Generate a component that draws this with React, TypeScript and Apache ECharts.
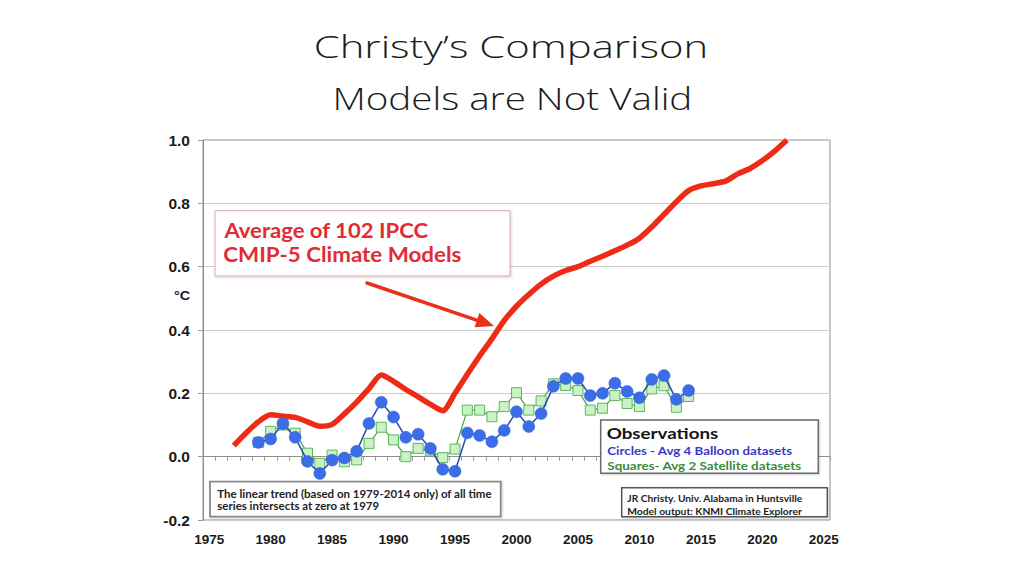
import React, { useEffect, useRef } from "react";
import * as echarts from "echarts";

// ---------- data ----------
const modelYears = [
  1977, 1978, 1979, 1980, 1981, 1982, 1983, 1984, 1985, 1986, 1987, 1988, 1989, 1990, 1991, 1992,
  1993, 1994, 1995, 1996, 1997, 1998, 1999, 2000, 2001, 2002, 2003, 2004, 2005, 2006, 2007, 2008,
  2009, 2010, 2011, 2012, 2013, 2014, 2015, 2016, 2017, 2018, 2019, 2020, 2021, 2022,
];
const modelValues = [
  0.035, 0.075, 0.11, 0.132, 0.128, 0.124, 0.11, 0.096, 0.102, 0.135, 0.172, 0.215, 0.258, 0.238,
  0.212, 0.189, 0.165, 0.145, 0.2, 0.26, 0.318, 0.372, 0.43, 0.475, 0.512, 0.545, 0.57, 0.588, 0.6,
  0.617, 0.633, 0.65, 0.668, 0.69, 0.725, 0.765, 0.805, 0.84, 0.855, 0.862, 0.87, 0.893, 0.91,
  0.935, 0.965, 1.0,
];
const obsYears = [
  1979, 1980, 1981, 1982, 1983, 1984, 1985, 1986, 1987, 1988, 1989, 1990, 1991, 1992, 1993, 1994,
  1995, 1996, 1997, 1998, 1999, 2000, 2001, 2002, 2003, 2004, 2005, 2006, 2007, 2008, 2009, 2010,
  2011, 2012, 2013, 2014,
];
const balloonValues = [
  0.045, 0.056, 0.104, 0.061, -0.015, -0.053, -0.011, -0.004, 0.017, 0.105, 0.172, 0.125, 0.061,
  0.071, 0.026, -0.04, -0.046, 0.075, 0.067, 0.047, 0.083, 0.142, 0.095, 0.136, 0.222, 0.247,
  0.247, 0.193, 0.2, 0.232, 0.206, 0.186, 0.244, 0.256, 0.181, 0.209,
];
const satelliteValues = [
  0.045, 0.08, 0.1, 0.074, 0.011, -0.021, 0.005, -0.016, -0.01, 0.042, 0.093, 0.053, 0.0, 0.026,
  0.018, -0.003, 0.024, 0.147, 0.147, 0.126, 0.158, 0.202, 0.147, 0.176, 0.23, 0.225, 0.209, 0.147,
  0.153, 0.193, 0.168, 0.158, 0.214, 0.224, 0.156, 0.19,
];
const xLabelYears = [1975, 1980, 1985, 1990, 1995, 2000, 2005, 2010, 2015, 2020, 2025];
const yUnit = "°C";

const titleLines = ["Christy’s Comparison", "Models are Not Valid"];
const modelNote = ["Average of 102 IPCC", "CMIP-5 Climate Models"];
const obsNote = [
  "Observations",
  "Circles - Avg 4 Balloon datasets",
  "Squares- Avg 2 Satellite datasets",
];
const trendNote = [
  "The linear trend (based on 1979-2014 only) of all time",
  "series intersects at zero at 1979",
];
const creditNote = ["JR Christy. Univ. Alabama in Huntsville", "Model output: KNMI Climate Explorer"];

// ---------- helpers ----------
let measureCtx: CanvasRenderingContext2D | null = null;
function ink(text: string, font: string) {
  if (!measureCtx) measureCtx = document.createElement("canvas").getContext("2d");
  const ctx = measureCtx as CanvasRenderingContext2D;
  ctx.font = font;
  const m = ctx.measureText(text);
  const left = typeof m.actualBoundingBoxLeft === "number" ? m.actualBoundingBoxLeft : 0;
  const right = typeof m.actualBoundingBoxRight === "number" ? m.actualBoundingBoxRight : m.width;
  return { left, right, width: left + right };
}

// fitted text: ink spans [x0, x1], cap centre at y
function fitText(
  text: string,
  x0: number,
  x1: number,
  y: number,
  size: number,
  weight: string,
  family: string,
  color: string
) {
  const font = `${weight} ${size}px ${family}`;
  const m = ink(text, font);
  const sx = m.width > 0 ? (x1 - x0) / m.width : 1;
  return {
    type: "text",
    x: x0 + m.left * sx,
    y,
    scaleX: sx,
    z: 110,
    silent: true,
    style: {
      text,
      font,
      fill: color,
      align: "left",
      verticalAlign: "middle",
      textAlign: "left",
      textVerticalAlign: "middle",
    },
  };
}

function box(x: number, y: number, w: number, h: number, stroke: string, lw: number) {
  return {
    type: "rect",
    z: 100,
    silent: true,
    shape: { x, y, width: w, height: h },
    style: {
      fill: "#ffffff",
      stroke,
      lineWidth: lw,
      shadowColor: "rgba(0,0,0,0.18)",
      shadowBlur: 2,
      shadowOffsetX: 1,
      shadowOffsetY: 1,
    },
  };
}

function buildOption() {
  const xTickValues: number[] = [];
  for (let v = 1974.5; v <= 2025.5; v += 1) xTickValues.push(v);

  const LATO = "Lato, 'Open Sans', sans-serif";
  const TITLE = "'Open Sans', Lato, sans-serif";
  const red = "#e42a33";

  // arrow geometry
  const ax0 = 367, ay0 = 283, tipX = 494, tipY = 326;
  const dx = tipX - ax0, dy = tipY - ay0;
  const len = Math.sqrt(dx * dx + dy * dy);
  const ux = dx / len, uy = dy / len;
  const nx = -uy, ny = ux;
  const headL = 18, headW = 7.5;
  const bx = tipX - headL * ux, by = tipY - headL * uy;

  const graphic: any[] = [
    // titles
    fitText(titleLines[0], 315, 706, 46, 32, "300", TITLE, "#1c1c1c"),
    fitText(titleLines[1], 336, 690, 97, 32, "300", TITLE, "#1c1c1c"),
    // y unit
    fitText(yUnit, 174, 191, 296, 13, "bold", "'Liberation Sans', Arial, sans-serif", "#1a1a1a"),
    // model annotation
    box(215, 210.7, 295, 65.3, "#dcaaaa", 1),
    fitText(modelNote[0], 223.3, 428.3, 229.5, 20, "bold", LATO, red),
    fitText(modelNote[1], 223.3, 461.7, 254, 20, "bold", LATO, red),
    {
      type: "line",
      z: 105,
      silent: true,
      shape: { x1: ax0, y1: ay0, x2: bx + 2 * ux, y2: by + 2 * uy },
      style: { stroke: "#e8301c", lineWidth: 3.5, lineCap: "round" },
    },
    {
      type: "polygon",
      z: 105,
      silent: true,
      shape: {
        points: [
          [tipX, tipY],
          [bx + headW * nx, by + headW * ny],
          [bx - headW * nx, by - headW * ny],
        ],
      },
      style: { fill: "#e8301c" },
    },
    // observations legend
    box(600.7, 420, 217.6, 53.3, "#6a6a6a", 1.5),
    fitText(obsNote[0], 606.7, 718.3, 433.3, 16, "bold", LATO, "#151515"),
    fitText(obsNote[1], 607.3, 792.7, 451, 11.5, "bold", LATO, "#3838c6"),
    fitText(obsNote[2], 607.3, 801.7, 466.3, 11.5, "bold", LATO, "#3b8b3b"),
    // trend note
    box(210, 481.7, 290.7, 35, "#8a8a8a", 1.8),
    fitText(trendNote[0], 217.3, 492.7, 494, 10.5, "bold", LATO, "#222222"),
    fitText(trendNote[1], 217.3, 379.3, 505.7, 10.5, "bold", LATO, "#222222"),
    // credit
    box(621.7, 487.7, 205.6, 29, "#555555", 1.5),
    fitText(creditNote[0], 627.3, 803.3, 497.7, 10, "bold", LATO, "#222222"),
    fitText(creditNote[1], 627.3, 802.3, 510.7, 10, "bold", LATO, "#222222"),
  ];

  return {
    animation: false,
    backgroundColor: "#ffffff",
    grid: {
      left: 203,
      top: 140,
      width: 627,
      height: 380,
      show: true,
      borderColor: "#8f8f8f",
      borderWidth: 1,
      backgroundColor: "transparent",
      containLabel: false,
    },
    xAxis: {
      type: "value",
      min: 1974.5,
      max: 2025.5,
      axisLine: { show: true, lineStyle: { color: "#8f8f8f", width: 1 } },
      axisTick: {
        show: true,
        length: 4,
        lineStyle: { color: "#9a9a9a" },
        customValues: xTickValues,
      },
      axisLabel: {
        customValues: xLabelYears,
        margin: 12,
        fontSize: 13.5,
        fontWeight: "bold",
        color: "#1a1a1a",
        fontFamily: "'Liberation Sans', Arial, sans-serif",
        formatter: (v: number) => String(Math.round(v)),
      },
      splitLine: { show: false },
    },
    yAxis: {
      type: "value",
      min: -0.2,
      max: 1.0,
      interval: 0.2,
      axisLine: { show: true, lineStyle: { color: "#8f8f8f", width: 1 } },
      axisTick: { show: true, length: 5, lineStyle: { color: "#9a9a9a" } },
      axisLabel: {
        margin: 13,
        fontSize: 15.5,
        fontWeight: "bold",
        color: "#1a1a1a",
        fontFamily: "'Liberation Sans', Arial, sans-serif",
        formatter: (v: number) => (Math.abs(v) < 1e-9 ? "0.0" : v.toFixed(1)),
      },
      splitLine: { show: true, lineStyle: { color: "#cccccc", width: 1 } },
    },
    series: [
      {
        type: "line",
        name: "Model average",
        data: modelYears.map((y, i) => [y, modelValues[i]]),
        smooth: 0.25,
        symbol: "none",
        showSymbol: false,
        clip: true,
        lineStyle: { color: "#ee2b16", width: 5.5 },
        z: 2,
      },
      {
        type: "line",
        name: "Satellite",
        data: obsYears.map((y, i) => [y, satelliteValues[i]]),
        symbol: "rect",
        symbolSize: 10,
        showSymbol: true,
        itemStyle: { color: "#cbf2c6", borderColor: "#5fb65a", borderWidth: 1 },
        lineStyle: { color: "#47a345", width: 1.2 },
        z: 3,
      },
      {
        type: "line",
        name: "Balloon",
        data: obsYears.map((y, i) => [y, balloonValues[i]]),
        symbol: "circle",
        symbolSize: 12,
        showSymbol: true,
        itemStyle: { color: "#3a6de6", borderColor: "#3565dc", borderWidth: 0.5 },
        lineStyle: { color: "#2a48b8", width: 1.5 },
        z: 4,
      },
    ],
    graphic,
  };
}

export default function App() {
  const ref = useRef<HTMLDivElement>(null);
  useEffect(() => {
    if (!ref.current) return;
    const chart = echarts.init(ref.current, null, { renderer: "svg" });
    chart.setOption(buildOption() as any);
    return () => chart.dispose();
  }, []);
  return (
    <div
      ref={ref}
      style={{
        position: "absolute",
        left: 0,
        top: 0,
        width: 1024,
        height: 576,
        background: "#ffffff",
      }}
    />
  );
}
